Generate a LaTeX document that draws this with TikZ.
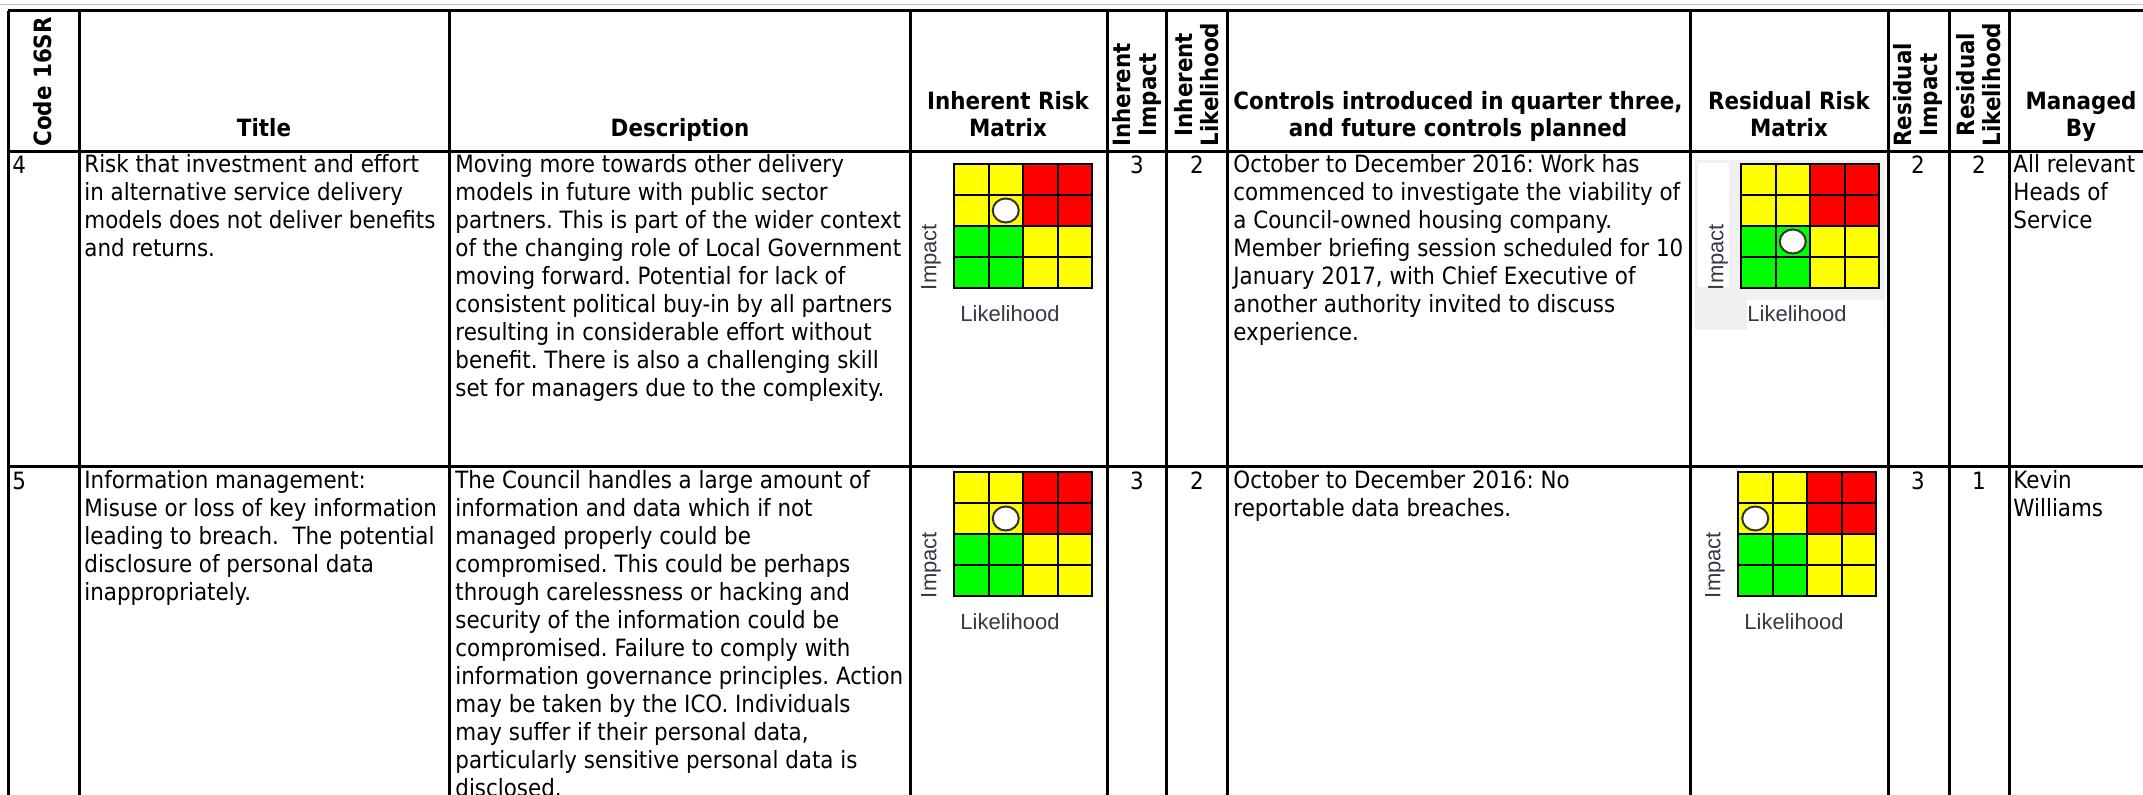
\documentclass[tikz,border=0pt]{standalone}
\usepackage{fontspec}
\setmainfont{DejaVu Sans}[FakeStretch=0.9]
\newfontfamily\matrixfont{Liberation Sans}
\frenchspacing

\definecolor{riskred}{RGB}{255,0,0}
\definecolor{riskyellow}{RGB}{255,255,0}
\definecolor{riskgreen}{RGB}{0,255,0}
\definecolor{labelgrey}{RGB}{55,55,70}
\definecolor{panelgrey}{RGB}{240,240,240}

\tikzstyle{rule} = [line width=1.5pt, black]
\tikzstyle{cell} = [anchor=north west, align=left, inner sep=0pt, font=\fontsize{11.9}{14}\selectfont, execute at begin node=\strut]
\tikzstyle{num} = [anchor=north, inner sep=0pt, font=\fontsize{11.9}{14}\selectfont, execute at begin node=\strut]
\tikzstyle{head} = [anchor=south, align=center, inner sep=0pt, font=\bfseries\fontsize{11.9}{13.5}\selectfont, execute at end node=\strut]
\tikzstyle{vhead} = [rotate=90, anchor=west, align=center, inner sep=0pt, font=\bfseries\fontsize{11.9}{13}\selectfont]
\tikzstyle{matlabel} = [inner sep=0pt, text=labelgrey, font=\matrixfont\fontsize{11}{13}\selectfont]
\tikzstyle{box} = [draw=black, line width=1pt]
\tikzstyle{dot} = [fill=white, draw=black!80, line width=1pt]

% risk matrix: #1 name, #2 x, #3 y (top left), #4 column of dot, #5 row of dot
\newcommand{\riskmatrix}[5]{%
  \foreach \r/\rowcols in {0/{riskyellow,riskyellow,riskred,riskred},
                           1/{riskyellow,riskyellow,riskred,riskred},
                           2/{riskgreen,riskgreen,riskyellow,riskyellow},
                           3/{riskgreen,riskgreen,riskyellow,riskyellow}} {
    \foreach \cellcol [count=\c from 0] in \rowcols {
      \filldraw[fill=\cellcol, box] ({#2+\c*34.5},{#3+\r*31}) rectangle ++(34.5,31);
    }
  }
  \draw[dot] ({#2+(#4-0.5)*34.5},{#3+(#5-0.5)*31}) ellipse [x radius=6.5pt, y radius=6pt];
  \node[matlabel, rotate=90] (#1imp) at ({#2-23},{#3+93}) {Impact};
  \node[matlabel] (#1lik) at ({#2+56},{#3+150}) {Likelihood};
}

\begin{document}
\begin{tikzpicture}[x=0.5pt, y=-0.5pt]
\useasboundingbox (0,0) rectangle (2143,795);

% Table rules
\draw[gray!50, line width=0.5pt] (0,5) -- (2143,5);
\draw[rule] (8,11) -- (2143,11);
\draw[rule] (8,152) -- (2143,152);
\draw[rule] (8,467) -- (2143,467);
\foreach \x in {8,79,449,910,1107,1166,1227,1690,1888,1949,2009}
  \draw[rule] (\x,11) -- (\x,800);

% Header row
\node[vhead] (hcode) at (43,147) {Code 16SR};
\node[head] (htitle) at (264,145) {Title};
\node[head] (hdesc) at (680,145) {Description};
\node[head] (hinhmat) at (1008,145) {Inherent Risk\\Matrix};
\node[vhead] (hinhimp) at (1137,147) {Inherent\\Impact};
\node[vhead] (hinhlik) at (1197,147) {Inherent\\Likelihood};
\node[head] (hctrl) at (1458,145) {Controls introduced in quarter three,\\and future controls planned};
\node[head] (hresmat) at (1789,145) {Residual Risk\\Matrix};
\node[vhead] (hresimp) at (1918,147) {Residual\\Impact};
\node[vhead] (hreslik) at (1979,147) {Residual\\Likelihood};
\node[head] (hmgr) at (2081,145) {Managed\\By};

% Risk 4
\node[cell] (code4) at (12,154) {4};
\node[cell] (title4) at (84,154) {Risk that investment and effort\\in alternative service delivery\\models does not deliver benefits\\and returns.};
\node[cell] (desc4) at (455,154) {Moving more towards other delivery\\models in future with public sector\\partners. This is part of the wider context\\of the changing role of Local Government\\moving forward. Potential for lack of\\consistent political buy-in by all partners\\resulting in considerable effort without\\benefit. There is also a challenging skill\\set for managers due to the complexity.};
\riskmatrix{inh4}{954}{164}{2}{2}
\node[num] (inhimp4) at (1137,154) {3};
\node[num] (inhlik4) at (1197,154) {2};
\node[cell] (ctrl4) at (1233,154) {October to December 2016: Work has\\commenced to investigate the viability of\\a Council-owned housing company.\\Member briefing session scheduled for 10\\January 2017, with Chief Executive of\\another authority invited to discuss\\experience.};
\fill[panelgrey] (1695,160) rectangle (1885,330);
\fill[white] (1698,163) rectangle (1729,287);
\fill[white] (1747,300) rectangle (1884,330);
\riskmatrix{res4}{1741}{164}{2}{3}
\node[num] (resimp4) at (1918,154) {2};
\node[num] (reslik4) at (1979,154) {2};
\node[cell] (mgr4) at (2013,154) {All relevant\\Heads of\\Service};

% Risk 5
\node[cell] (code5) at (12,470) {5};
\node[cell] (title5) at (84,470) {Information management:\\Misuse or loss of key information\\leading to breach.\ \ The potential\\disclosure of personal data\\inappropriately.};
\node[cell] (desc5) at (455,470) {The Council handles a large amount of\\information and data which if not\\managed properly could be\\compromised. This could be perhaps\\through carelessness or hacking and\\security of the information could be\\compromised. Failure to comply with\\information governance principles. Action\\may be taken by the ICO. Individuals\\may suffer if their personal data,\\particularly sensitive personal data is\\disclosed.};
\riskmatrix{inh5}{954}{472}{2}{2}
\node[num] (inhimp5) at (1137,470) {3};
\node[num] (inhlik5) at (1197,470) {2};
\node[cell] (ctrl5) at (1233,470) {October to December 2016: No\\reportable data breaches.};
\riskmatrix{res5}{1738}{472}{1}{2}
\node[num] (resimp5) at (1918,470) {3};
\node[num] (reslik5) at (1979,470) {1};
\node[cell] (mgr5) at (2013,470) {Kevin\\Williams};

\end{tikzpicture}
\end{document}
